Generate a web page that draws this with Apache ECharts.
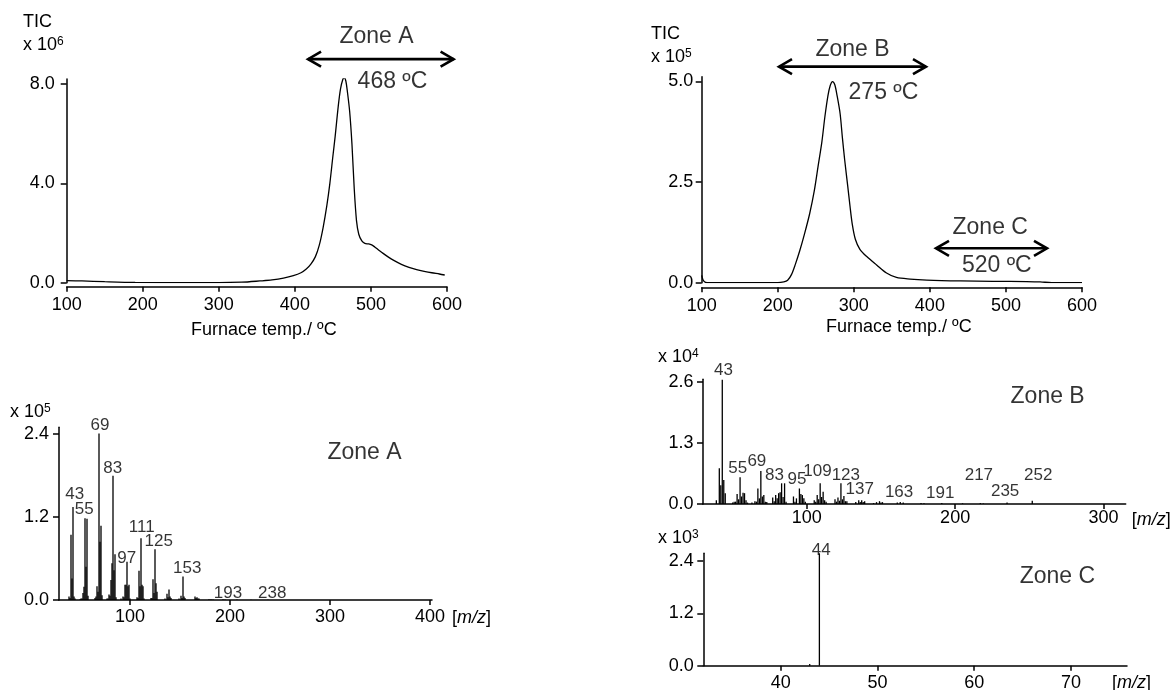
<!DOCTYPE html>
<html><head><meta charset="utf-8">
<script src="https://cdn.jsdelivr.net/npm/echarts@6.0.0/dist/echarts.min.js"></script>
<style>html,body{margin:0;padding:0;background:#fff}#c{width:1170px;height:690px}</style>
</head><body><div id="c"></div><script>
const FONT = '"Liberation Sans", Arial, Helvetica, sans-serif';

// ---- TIC traces (Zone A sample, left; Zone B/C sample, right) ----
const tempA = [100,120,150,190,250,300,330,354,370,385, 398,408,415,421,427,432,437,442,446,450, 453,457,460,463,465,467,469,472,475,478, 481,484,488,492,497,501,505,510,516,523, 530,540,550,560,570,580,590,597];
const ticA  = [0.08,0.07,0.04,0.01,0.0,0.0,0.02,0.07,0.11,0.18, 0.28,0.4,0.55,0.75,1.05,1.5,2.2,3.1,4.0,5.1, 5.9,7.1,7.8,8.18,8.25,8.12,7.7,6.9,5.6,3.8, 2.5,1.95,1.68,1.58,1.56,1.52,1.44,1.32,1.18,1.03, 0.9,0.74,0.62,0.53,0.46,0.4,0.35,0.31];
const tempB = [100,102,105,110,150,200,208,213,218,223, 229,235,242,248,253,258,262,266,269,272, 275,278,282,285,288,292,295,298,302,308, 317,330,343,356,374,396,440,483,527,545, 560,600];
const ticB  = [0.18,0.06,0.01,0.0,0.0,0.0,0.02,0.06,0.2,0.45, 0.8,1.2,1.72,2.28,2.89,3.5,4.13,4.65,4.9,5.0, 4.92,4.65,4.2,3.6,3.05,2.4,1.9,1.45,1.08,0.83, 0.65,0.44,0.24,0.13,0.09,0.066,0.045,0.035,0.028,0.02, 0.0,0.0];

// ---- Mass spectra ----
const mzA  = [39,40,41,42,43,44,45,50,51,52, 53,54,55,56,57,58,65,66,67,68, 69,70,71,72,77,78,79,80,81,82, 83,84,85,86,91,93,94,95,96,97, 98,99,100,107,108,109,110,111,112,113, 114,121,122,123,124,125,126,127,135,137, 138,139,140,141,149,151,152,153,154,155, 165,166,167,168,169,179,181,183,193,195, 207,221,238];
const intA = [0.05,0.03,0.94,0.31,1.34,0.05,0.02,0.01,0.02,0.02, 0.1,0.19,1.18,0.48,1.17,0.06,0.03,0.05,0.2,0.12, 2.40,0.84,1.07,0.07,0.02,0.02,0.08,0.06,0.29,0.53, 1.79,0.43,0.66,0.04,0.02,0.05,0.04,0.22,0.22,0.55, 0.2,0.22,0.02,0.04,0.03,0.42,0.2,0.89,0.22,0.2, 0.02,0.03,0.03,0.3,0.1,0.73,0.24,0.12,0.02,0.09, 0.04,0.15,0.05,0.03,0.02,0.06,0.03,0.34,0.05,0.03, 0.05,0.03,0.04,0.02,0.02,0.01,0.012,0.008,0.01,0.008, 0.006,0.004,0.005];
const mzB  = [39,41,42,43,44,45,50,51,52,53, 54,55,56,57,58,59,60,63,65,66, 67,68,69,70,71,72,73,77,78,79, 80,81,82,83,84,85,86,91,92,93, 95,96,97,98,99,105,106,107,108,109, 110,111,112,113,119,120,121,122,123,124, 125,126,127,133,135,136,137,138,139,145, 147,149,150,151,161,163,165,177,179,191, 205,217,219,235,252];
const intB = [0.08,0.76,0.4,2.64,0.51,0.23,0.03,0.05,0.05,0.21, 0.1,0.57,0.16,0.24,0.23,0.08,0.03,0.03,0.06,0.05, 0.33,0.12,0.7,0.16,0.19,0.05,0.04,0.14,0.06,0.19, 0.12,0.23,0.25,0.44,0.15,0.44,0.05,0.16,0.05,0.12, 0.33,0.21,0.19,0.12,0.05,0.08,0.05,0.19,0.1,0.44, 0.15,0.26,0.08,0.05,0.1,0.05,0.14,0.07,0.44,0.1, 0.17,0.06,0.06,0.04,0.08,0.04,0.08,0.04,0.06,0.02, 0.04,0.06,0.03,0.04,0.03,0.04,0.03,0.02,0.015,0.02, 0.015,0.02,0.01,0.03,0.07];
const mzC  = [43, 44];
const intC = [0.04, 2.58];

// ---- Peak labels: text and anchor (label centre m/z, label bottom intensity) ----
const peakTextA = ['43','55','69','83','97','111','125','153','193','238'];
const peakXA    = [44.7,54.2,70,82.7,96.7,111.7,128.7,157.3,198,242.3];
const peakYA    = [1.42,1.2,2.42,1.8,0.5,0.94,0.74,0.36,0.0,0.0];
const peakTextB = ['43','55','69','83','95','109','123','137','163','191','217','235','252'];
const peakXB    = [43.8,53.4,66.3,78.2,93.3,107.2,126.3,135.7,162.2,190,216,233.7,256];
const peakYB    = [2.7,0.62,0.76,0.47,0.37,0.545,0.47,0.16,0.1,0.075,0.47,0.12,0.47];
const peakTextC = ['44'];
const peakXC    = [44.2];
const peakYC    = [2.49];

// ---- Tick values ----
const ticksTemp = [100,200,300,400,500,600];
const ticksTicA = [0,4,8];
const ticksTicB = [0,2.5,5];
const ticksMzA  = [100,200,300,400];
const ticksIntA = [0,1.2,2.4];
const ticksMzB  = [100,200,300];
const ticksIntB = [0,1.3,2.6];
const ticksMzC  = [40,50,60,70];
const ticksIntC = [0,1.2,2.4];

// ---- Zone annotations (data coordinates) ----
const zoneArrowsTop1 = [[416, 610, 9.0]];
const zoneArrowsTop2 = [[200.3, 396.2, 5.37], [406.7, 555.3, 0.856]];
const zoneTextTop1 = [['Zone A', 508, 9.9], ['468 ºC', 529, 8.08]];
const zoneTextTop2 = [['Zone B', 298.9, 5.77], ['275 ºC', 339.6, 4.71], ['Zone C', 480, 1.35], ['520 ºC', 488.7, 0.42]];
const zoneTextMsA = [['Zone A', 335, 2.117]];
const zoneTextMsB = [['Zone B', 262.7, 2.28]];
const zoneTextMsC = [['Zone C', 68.66, 2.03]];

const zip = (a, b) => a.map((v, i) => [v, b[i]]);
const BLACK = '#000';

const grids = [
  {left: 66.7, top: 79, width: 380.3, height: 203.7},
  {left: 701.7, top: 76.7, width: 380.3, height: 206},
  {left: 59, top: 427.3, width: 373, height: 172.7},
  {left: 703, top: 379.3, width: 422.7, height: 124.7},
  {left: 703.3, top: 553.3, width: 423.7, height: 112.4}
].map(g => Object.assign({containLabel: false, outerBoundsMode: 'none'}, g));

function xAx(gi, min, max, ticks, margin, extra) {
  return Object.assign({
    type: 'value', gridIndex: gi, min, max,
    axisLine: {show: true, onZero: false, lineStyle: {color: BLACK, width: 1.5}},
    axisTick: {show: true, length: 5, customValues: ticks, lineStyle: {color: BLACK, width: 1.5}},
    axisLabel: {customValues: ticks, color: BLACK, fontSize: 18, fontFamily: FONT, margin},
    splitLine: {show: false}
  }, extra || {});
}
function yAx(gi, max, ticks, margin) {
  return {
    type: 'value', gridIndex: gi, min: 0, max,
    axisLine: {show: true, onZero: false, lineStyle: {color: BLACK, width: 1.5}},
    axisTick: {show: true, length: 6, customValues: ticks, lineStyle: {color: BLACK, width: 1.5}},
    axisLabel: {customValues: ticks, color: BLACK, fontSize: 18, fontFamily: FONT, margin, formatter: v => Number(v).toFixed(1)},
    splitLine: {show: false}
  };
}
const mzName = (gap, padTop) => ({
  name: '[{i|m/z}]', nameLocation: 'end', nameGap: gap,
  nameTextStyle: {color: BLACK, fontSize: 18, fontFamily: FONT, verticalAlign: 'top', align: 'left', padding: [padTop, 0, 0, 0],
    rich: {i: {fontStyle: 'italic', fontSize: 18, fontFamily: FONT, color: BLACK}}}
});
const tempName = (gap) => ({
  name: 'Furnace temp./ ºC', nameLocation: 'middle', nameGap: gap,
  nameTextStyle: {color: BLACK, fontSize: 18, fontFamily: FONT, padding: [0, 0, 0, 14]}
});

const xAxes = [
  xAx(0, 100, 600, ticksTemp, 9.5, Object.assign({offset: 4}, tempName(34))),
  xAx(1, 100, 600, ticksTemp, 10, Object.assign({offset: 4.6}, tempName(30.5))),
  xAx(2, 29, 402, ticksMzA, 8, mzName(20, 9)),
  xAx(3, 30, 315, ticksMzB, 5, mzName(6, 7)),
  xAx(4, 32, 75.8, ticksMzC, 8.5, mzName(-15, 8.3))
];
const yAxes = [
  yAx(0, 8.2, ticksTicA, 12),
  yAx(1, 5.12, ticksTicB, 8.5),
  yAx(2, 2.49, ticksIntA, 10),
  yAx(3, 2.65, ticksIntB, 9.5),
  yAx(4, 2.58, ticksIntC, 9.5)
];

function lineSeries(gi, xs, ys) {
  return {type: 'line', xAxisIndex: gi, yAxisIndex: gi, data: zip(xs, ys), showSymbol: false, smooth: 0.3,
    lineStyle: {color: BLACK, width: 1.3}, silent: true, z: 3};
}
function stickSeries(gi, xs, ys) {
  return {type: 'bar', xAxisIndex: gi, yAxisIndex: gi, data: zip(xs, ys), barWidth: 1.3,
    itemStyle: {color: BLACK}, silent: true, z: 3};
}
function peakLabelSeries(gi, xs, ys, texts) {
  return {type: 'scatter', xAxisIndex: gi, yAxisIndex: gi, symbolSize: 1, clip: false, silent: true,
    itemStyle: {color: 'rgba(0,0,0,0)'},
    data: xs.map((x, i) => ({value: [x, ys[i]], name: texts[i]})),
    label: {show: true, position: 'top', distance: -2, formatter: p => p.name, color: BLACK, fontSize: 17, fontFamily: FONT},
    z: 5};
}
function textSeries(gi, items) {
  return {type: 'scatter', xAxisIndex: gi, yAxisIndex: gi, symbolSize: 1, clip: false, silent: true,
    itemStyle: {color: 'rgba(0,0,0,0)'},
    data: items.map(t => ({value: [t[1], t[2]], name: t[0]})),
    label: {show: true, position: [0, 0], align: 'center', verticalAlign: 'middle', formatter: p => p.name,
      color: BLACK, fontSize: 23, fontFamily: FONT},
    z: 5};
}
function arrowSeries(gi, arr) {
  return {type: 'custom', xAxisIndex: gi, yAxisIndex: gi, clip: false, silent: true, data: arr,
    encode: {x: [0, 1], y: 2},
    renderItem: (params, api) => {
      const p1 = api.coord([api.value(0), api.value(2)]);
      const p2 = api.coord([api.value(1), api.value(2)]);
      const h = 7.5, w = 14;
      const st = {stroke: BLACK, lineWidth: 2.6, fill: null, lineJoin: 'miter'};
      return {type: 'group', children: [
        {type: 'line', shape: {x1: p1[0] + 1, y1: p1[1], x2: p2[0] - 1, y2: p2[1]}, style: st},
        {type: 'polyline', shape: {points: [[p1[0] + w, p1[1] - h], [p1[0] + 1, p1[1]], [p1[0] + w, p1[1] + h]]}, style: st},
        {type: 'polyline', shape: {points: [[p2[0] - w, p2[1] - h], [p2[0] - 1, p2[1]], [p2[0] - w, p2[1] + h]]}, style: st}
      ]};
    }, z: 5};
}

function unitText(x, y, base, exp) {
  return {type: 'text', x, y, silent: true,
    style: {text: '{a|' + base + '}' + (exp ? '{s|' + exp + '}' : ''),
      rich: {a: {fontSize: 18, fontFamily: FONT, fill: BLACK, color: BLACK, verticalAlign: 'middle'},
             s: {fontSize: 12, fontFamily: FONT, fill: BLACK, color: BLACK, verticalAlign: 'top'}},
      fill: BLACK, textAlign: 'left', align: 'left', textVerticalAlign: 'middle', verticalAlign: 'middle'}};
}

const option = {
  animation: false,
  backgroundColor: '#fff',
  textStyle: {fontFamily: FONT},
  grid: grids,
  xAxis: xAxes,
  yAxis: yAxes,
  series: [
    lineSeries(0, tempA, ticA),
    lineSeries(1, tempB, ticB),
    stickSeries(2, mzA, intA),
    stickSeries(3, mzB, intB),
    stickSeries(4, mzC, intC),
    peakLabelSeries(2, peakXA, peakYA, peakTextA),
    peakLabelSeries(3, peakXB, peakYB, peakTextB),
    peakLabelSeries(4, peakXC, peakYC, peakTextC),
    textSeries(0, zoneTextTop1),
    textSeries(1, zoneTextTop2),
    textSeries(2, zoneTextMsA),
    textSeries(3, zoneTextMsB),
    textSeries(4, zoneTextMsC),
    arrowSeries(0, zoneArrowsTop1),
    arrowSeries(1, zoneArrowsTop2)
  ],
  graphic: {elements: [
    unitText(23, 22.5, 'TIC'),
    unitText(23, 45, 'x 10', '6'),
    unitText(651, 34.5, 'TIC'),
    unitText(651, 57, 'x 10', '5'),
    unitText(10, 411.7, 'x 10', '5'),
    unitText(658, 357, 'x 10', '4'),
    unitText(658, 538, 'x 10', '3')
  ]}
};
const chart = echarts.init(document.getElementById('c'), null, {renderer: 'canvas'});
chart.setOption(option);
</script></body></html>
